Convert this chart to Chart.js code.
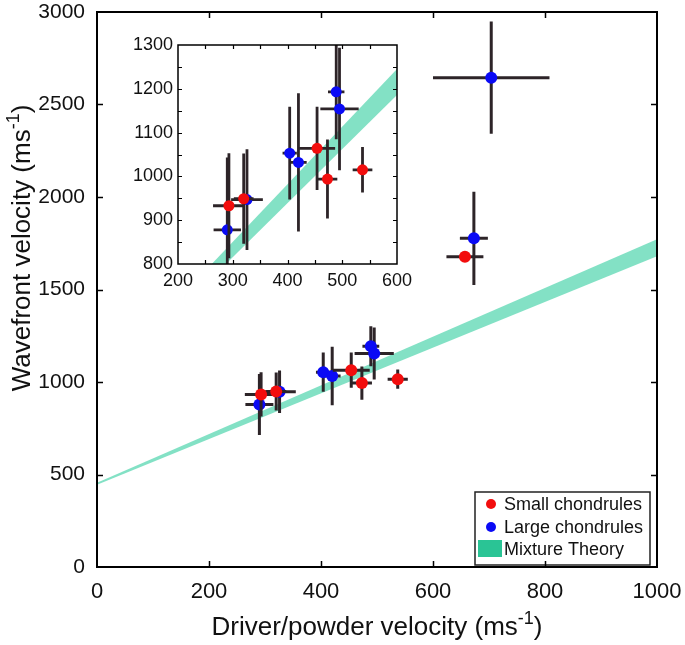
<!DOCTYPE html>
<html>
<head>
<meta charset="utf-8">
<script src="https://cdn.jsdelivr.net/npm/chart.js@4.4.1/dist/chart.umd.min.js"></script>
<style>
    html, body { margin: 0; padding: 0; background: #fff; }
    #wrap { position: relative; width: 685px; height: 645px; }
    #mainChart { position: absolute; left: 0; top: 0; }
    #insetChart { position: absolute; left: 120px; top: 30px; }
</style>
</head>
<body>
<div id="wrap">
    <canvas id="mainChart" width="685" height="645"></canvas>
    <canvas id="insetChart" width="302" height="275"></canvas>
</div>
<script>
/* Data */
// Small chondrules
const smallX = [293, 320, 454, 473, 537, 657]
const smallY = [933, 949, 1064, 994, 1015, 1677]
const smallXErr = [29, 18, 33, 18, 18, 33]
const smallYErr = [120, 103, 95, 90, 52, 25]

// Large chondrules
const largeX = [290, 326, 404, 420, 489, 495, 673, 704]
const largeY = [878, 947, 1053, 1032, 1193, 1154, 1777, 2645]
const largeXErr = [25, 29, 13, 15, 15, 35, 25, 104]
const largeYErr = [165, 115, 106, 158, 108, 140, 252, 303]

// Mixture theory band (lower and upper edge)
const bandX = [0, 1000]
const bandLow = [445, 1680]
const bandHigh = [456, 1771]

// Tick labels
const mainXTicks = [0, 200, 400, 600, 800, 1000]
const mainYTicks = [0, 500, 1000, 1500, 2000, 2500, 3000]
const insetXTicks = [200, 300, 400, 500, 600]
const insetYTicks = [800, 900, 1000, 1100, 1200, 1300]

const FONT = '"Liberation Sans", Arial, Helvetica, sans-serif'
const RED = '#f20d0d'
const BLUE = '#0a0af5'
const BAR = '#2d2428'
const BAND_FILL = 'rgba(30, 200, 150, 0.55)'
const BAND_KEY = '#2ac495'

const toPoints = (xs, ys) => xs.map((x, i) => ({ x: x, y: ys[i] }))


/* Error bars, drawn right before the points of each dataset */
const errorBarPlugin = {
    id: 'errorBars',
    beforeDatasetDraw(chart, args, opts) {
        const ds = chart.data.datasets[args.index]
        if (!ds.xErr) return
        const { ctx, chartArea: a, scales: { x, y } } = chart
        ctx.save()
        ctx.beginPath()
        ctx.rect(a.left, a.top, a.width, a.height)
        ctx.clip()
        ctx.strokeStyle = BAR
        ctx.lineWidth = opts.width
        ds.data.forEach((p, i) => {
            const px = x.getPixelForValue(p.x)
            const py = y.getPixelForValue(p.y)
            ctx.beginPath()
            ctx.moveTo(x.getPixelForValue(p.x - ds.xErr[i]), py)
            ctx.lineTo(x.getPixelForValue(p.x + ds.xErr[i]), py)
            ctx.moveTo(px, y.getPixelForValue(p.y - ds.yErr[i]))
            ctx.lineTo(px, y.getPixelForValue(p.y + ds.yErr[i]))
            ctx.stroke()
        })
        ctx.restore()
    }
}

/* Box around plot with inward ticks on all four sides */
const framePlugin = {
    id: 'frame',
    afterDatasetsDraw(chart, args, opts) {
        const { ctx, chartArea: a, scales: { x, y } } = chart
        ctx.save()
        ctx.strokeStyle = '#000'
        ctx.lineWidth = opts.tickWidth
        ctx.beginPath()
        for (let v = x.min + opts.xStep; v < x.max; v += opts.xStep) {
            const px = Math.round(x.getPixelForValue(v)) + 0.5
            ctx.moveTo(px, a.bottom)
            ctx.lineTo(px, a.bottom - opts.len)
            ctx.moveTo(px, a.top)
            ctx.lineTo(px, a.top + opts.len)
        }
        for (let v = y.min + opts.yStep; v < y.max; v += opts.yStep) {
            const py = Math.round(y.getPixelForValue(v)) + 0.5
            ctx.moveTo(a.left, py)
            ctx.lineTo(a.left + opts.len, py)
            ctx.moveTo(a.right, py)
            ctx.lineTo(a.right - opts.len, py)
        }
        ctx.stroke()
        ctx.lineWidth = opts.width
        ctx.strokeRect(a.left, a.top, a.width, a.height)
        ctx.restore()
    }
}

/* Text with a superscript part, e.g. ms^-1 */
const drawSupText = (ctx, cx, baseY, head, sup, tail, size) => {
    const big = size + 'px ' + FONT
    const small = Math.round(size * 0.68) + 'px ' + FONT
    ctx.font = big
    const w1 = ctx.measureText(head).width
    const w3 = ctx.measureText(tail).width
    ctx.font = small
    const w2 = ctx.measureText(sup).width
    const start = cx - (w1 + w2 + w3) / 2
    ctx.textAlign = 'left'
    ctx.textBaseline = 'alphabetic'
    ctx.font = big
    ctx.fillText(head, start, baseY)
    ctx.fillText(tail, start + w1 + w2, baseY)
    ctx.font = small
    ctx.fillText(sup, start + w1, baseY - size * 0.42)
}

const axisTitlePlugin = {
    id: 'axisTitles',
    afterDraw(chart) {
        const { ctx, chartArea: a } = chart
        ctx.save()
        ctx.fillStyle = '#111'
        drawSupText(ctx, a.left + 280, 635, 'Driver/powder velocity (ms', '-1', ')', 26)
        ctx.translate(30, 248)
        ctx.rotate(-Math.PI / 2)
        drawSupText(ctx, 0, 0, 'Wavefront velocity (ms', '-1', ')', 26)
        ctx.restore()
    }
}

/* Legend box in the lower right corner */
const legendBoxPlugin = {
    id: 'legendBox',
    afterDatasetsDraw(chart) {
        const { ctx, chartArea: a } = chart
        const left = a.right - 182
        const top = a.bottom - 75
        ctx.save()
        ctx.fillStyle = '#fff'
        ctx.fillRect(left, top, 175, 73)
        ctx.strokeStyle = '#222'
        ctx.lineWidth = 1.5
        ctx.strokeRect(left, top, 175, 73)

        ctx.fillStyle = RED
        ctx.beginPath()
        ctx.arc(left + 16, top + 12, 5, 0, Math.PI * 2)
        ctx.fill()
        ctx.fillStyle = BLUE
        ctx.beginPath()
        ctx.arc(left + 16, top + 35, 5, 0, Math.PI * 2)
        ctx.fill()
        ctx.fillStyle = BAND_KEY
        ctx.fillRect(left + 3, top + 48, 24, 17)

        ctx.fillStyle = '#111'
        ctx.font = '18px ' + FONT
        ctx.textAlign = 'left'
        ctx.textBaseline = 'middle'
        ctx.fillText('Small chondrules', left + 29, top + 13)
        ctx.fillText('Large chondrules', left + 29, top + 36)
        ctx.fillText('Mixture Theory', left + 29, top + 58)
        ctx.restore()
    }
}

const makeDatasets = (radius) => [
    {
        label: 'Small chondrules',
        data: toPoints(smallX, smallY),
        xErr: smallXErr,
        yErr: smallYErr,
        backgroundColor: RED,
        borderWidth: 0,
        pointRadius: radius
    },
    {
        label: 'Large chondrules',
        data: toPoints(largeX, largeY),
        xErr: largeXErr,
        yErr: largeYErr,
        backgroundColor: BLUE,
        borderWidth: 0,
        pointRadius: radius
    },
    {
        label: 'band low',
        type: 'line',
        data: toPoints(bandX, bandLow),
        borderWidth: 0,
        pointRadius: 0,
        fill: false
    },
    {
        label: 'Mixture Theory',
        type: 'line',
        data: toPoints(bandX, bandHigh),
        borderWidth: 0,
        pointRadius: 0,
        backgroundColor: BAND_FILL,
        fill: '-1'
    }
]

const tickOpts = (size, pad) => ({
    autoSkip: false,
    color: '#111',
    padding: pad,
    font: { family: FONT, size: size, lineHeight: 1 },
    callback: v => String(v)
})

// labels may hang past the plot box, so drop the extra padding Chart.js adds
const noEdgePadding = (s) => {
    s.paddingLeft = 0
    s.paddingRight = 0
    s.paddingTop = 0
    s.paddingBottom = 0
}

/* Main chart */
const mainChart = new Chart(document.getElementById('mainChart'), {
    type: 'scatter',
    data: { datasets: makeDatasets(6) },
    options: {
        responsive: false,
        animation: false,
        layout: { autoPadding: false, padding: { top: 12, right: 28, left: 0, bottom: 0 } },
        plugins: {
            legend: { display: false },
            tooltip: { enabled: false },
            errorBars: { width: 3 },
            frame: { width: 2, tickWidth: 1.5, len: 6, xStep: 200, yStep: 500 }
        },
        scales: {
            x: {
                type: 'linear', min: 0, max: 1000,
                afterBuildTicks: s => { s.ticks = mainXTicks.map(v => ({ value: v })) },
                ticks: tickOpts(22, 14),
                grid: { display: false, drawTicks: false },
                border: { display: false },
                afterFit: s => { s.height = 78; noEdgePadding(s) }
            },
            y: {
                type: 'linear', min: 0, max: 3000,
                afterBuildTicks: s => { s.ticks = mainYTicks.map(v => ({ value: v })) },
                ticks: tickOpts(21, 12),
                grid: { display: false, drawTicks: false },
                border: { display: false },
                afterFit: s => { s.width = 97; noEdgePadding(s) }
            }
        }
    },
    plugins: [errorBarPlugin, legendBoxPlugin, framePlugin, axisTitlePlugin]
})

/* Inset chart */
const insetChart = new Chart(document.getElementById('insetChart'), {
    type: 'scatter',
    data: { datasets: makeDatasets(5.5) },
    options: {
        responsive: false,
        animation: false,
        layout: { autoPadding: false, padding: { top: 15, right: 25, left: 0, bottom: 0 } },
        plugins: {
            legend: { display: false },
            tooltip: { enabled: false },
            errorBars: { width: 2.8 },
            frame: { width: 1.5, tickWidth: 1.2, len: 4, xStep: 50, yStep: 50 }
        },
        scales: {
            x: {
                type: 'linear', min: 200, max: 600,
                afterBuildTicks: s => { s.ticks = insetXTicks.map(v => ({ value: v })) },
                ticks: tickOpts(18, 8),
                grid: { display: false, drawTicks: false },
                border: { display: false },
                afterFit: s => { s.height = 41; noEdgePadding(s) }
            },
            y: {
                type: 'linear', min: 800, max: 1300,
                afterBuildTicks: s => { s.ticks = insetYTicks.map(v => ({ value: v })) },
                ticks: tickOpts(18, 5),
                grid: { display: false, drawTicks: false },
                border: { display: false },
                afterFit: s => { s.width = 58; noEdgePadding(s) }
            }
        }
    },
    plugins: [errorBarPlugin, framePlugin]
})
</script>
</body>
</html>
